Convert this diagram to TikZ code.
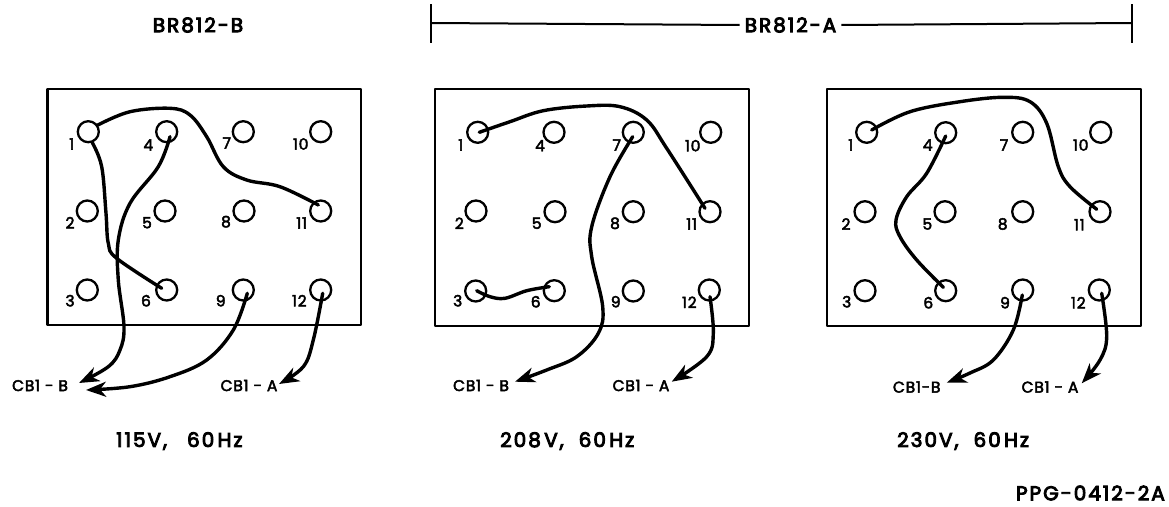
\documentclass[tikz,border=0pt]{standalone}
\usepackage{fontspec}
\setmainfont{Poppins}
\newfontfamily\lett[LetterSpace=10,FakeBold=4.5]{Poppins}
\newfontfamily\lettn[LetterSpace=5,FakeBold=3]{Poppins}
\usetikzlibrary{arrows.meta}
\tikzset{
  x=1pt,y=-1pt,
  panel/.style={draw=black,line width=2.3pt,line join=round},
  term/.style={circle,draw=black,line width=2.3pt,minimum size=21pt,inner sep=0pt},
  num/.style={inner sep=0pt,font=\lettn\fontsize{15.5}{16}\selectfont},
  cb/.style={inner sep=0pt,font=\lettn\fontsize{15.5}{16}\selectfont},
  head/.style={inner sep=0pt,font=\lett\fontsize{20}{22}\selectfont},
  wire/.style={draw=black,line width=3.4pt,line cap=round},
  lead/.style={wire,-{Stealth[length=20pt,width=15pt,inset=6pt]}},
  bar/.style={draw=black,line width=2pt},
  sm/.style={smooth,tension=0.6}
}
\begin{document}
\begin{tikzpicture}
\useasboundingbox (0,0) rectangle (1169,506);
% panels
\draw[panel] (47.5,89) rectangle (361,325);
\draw[panel] (435,89.3) rectangle (749.3,325.7);
\draw[panel] (827.3,89.3) rectangle (1141,325.7);
% terminals
\foreach \n/\x/\y in {1/88.3/131.7,4/166.7/131.7,7/243.3/131.7,10/320.7/131.7,2/87.3/211,5/165/211,8/244/211,11/320.7/211,3/87.3/290,6/166.7/290,9/243.3/290,12/320.7/290}
  \node[term] (a\n) at (\x,\y) {};
\foreach \n/\x/\y in {1/477.7/132.3,4/554/132.3,7/633.3/132.3,10/710.7/132.3,2/476/211,5/555/211.7,8/633.3/211.7,11/710/211.7,3/475.7/291,6/554.3/290.7,9/633.3/291,12/709.3/290}
  \node[term] (b\n) at (\x,\y) {};
\foreach \n/\x/\y in {1/866.7/132.3,4/945.7/132.7,7/1022.7/132.3,10/1100.7/132.3,2/865/211.7,5/945/211.7,8/1022.7/211.7,11/1100/211.7,3/865/290.7,6/945.7/290.7,9/1022.7/290,12/1099.3/290}
  \node[term] (c\n) at (\x,\y) {};
% numbers
\foreach \n/\x/\y in {1/71.7/144,4/148.3/145,7/226.7/143,10/300.7/144,2/70/222.7,5/147/222.7,8/226/221.7,11/301.7/223,3/70/300.7,6/146/300.7,9/220.7/300.7,12/299.3/300.7}
  \node[num] (la\n) at (\x,\y) {\n};
\foreach \n/\x/\y in {1/460.7/145,4/540/145.7,7/616.7/145,10/692.7/145.7,2/459.3/223.3,5/536.7/223.3,8/615/223.3,11/691.7/224,3/457.7/300.7,6/535.7/301.7,9/615.7/301.7,12/689.3/302.3}
  \node[num] (lb\n) at (\x,\y) {\n};
\foreach \n/\x/\y in {1/850.7/145,4/927.7/145,7/1004/145,10/1080.7/145,2/846/224,5/927.3/224,8/1002.7/224,11/1079.3/224.7,3/846.7/301.7,6/928.3/302.7,9/1005/302.7,12/1078.3/302.7}
  \node[num] (lc\n) at (\x,\y) {\n};
% lead labels
\node[cb] (aB) at (40,385.5) {CB1 - B};
\node[cb] (aA) at (249,385.5) {CB1 - A};
\node[cb] (bB) at (481,385.5) {CB1 - B};
\node[cb] (bA) at (641,385.5) {CB1 - A};
\node[cb] (cB) at (916.7,387) {CB1-B};
\node[cb] (cA) at (1050,387) {CB1 - A};
% wire ends inside the terminals
\coordinate (a11e) at ([shift={(-2.4,-6)}]a11.center);
\coordinate (a6e) at ([shift={(-5,-1.7)}]a6.center);
\coordinate (a4s) at ([shift={(3.3,5)}]a4.center);
\coordinate (a9s) at ([shift={(4,3.3)}]a9.center);
\coordinate (a12s) at ([shift={(2,3.3)}]a12.center);
\coordinate (b1s) at ([shift={(1.6,0)}]b1.center);
\coordinate (b11e) at ([shift={(-5,-3.4)}]b11.center);
\coordinate (b7s) at ([shift={(-0.6,4.4)}]b7.center);
\coordinate (b3s) at ([shift={(1,-0.3)}]b3.center);
\coordinate (b6e) at ([shift={(-5,-4)}]b6.center);
\coordinate (b12s) at ([shift={(0.7,6.7)}]b12.center);
\coordinate (c1s) at ([shift={(5,-2.3)}]c1.center);
\coordinate (c11e) at ([shift={(-3.3,-2.4)}]c11.center);
\coordinate (c4s) at ([shift={(0,3.3)}]c4.center);
\coordinate (c6e) at ([shift={(-2.4,-3.4)}]c6.center);
\coordinate (c9s) at ([shift={(-0.4,5)}]c9.center);
\coordinate (c12s) at ([shift={(2.4,3.3)}]c12.center);
% lead ends
\coordinate (aBt) at (79,383);
\coordinate (aBu) at (86,390);
\coordinate (aAt) at (279,384);
\coordinate (bBt) at (515,381.7);
\coordinate (bAt) at (671.7,381.7);
\coordinate (cBt) at (946.7,382.7);
\coordinate (cAt) at (1081.7,383.3);
% panel A wires
\draw[wire] plot[sm] coordinates {(a1.35) (130,111.7) (170,108.3) (190,115) (206.7,136.7) (223.3,166.7) (246.7,180) (280,186.7) (a11e)};
\draw[wire] plot[sm] coordinates {(a1.-70) (101.7,166.7) (106,213.3) (108.3,243.3) (116.7,258.3) (a6e)};
\draw[lead] plot[sm] coordinates {(a4s) (158.3,166.7) (130,203.3) (118.3,240) (118.3,280) (124,326.7) (120,350) (108.3,366.7) (aBt)};
\draw[lead] plot[sm] coordinates {(a9s) (233.3,330) (206.7,360) (170,376.7) (130,386.7) (aBu)};
\draw[lead] plot[sm] coordinates {(a12s) (313.3,340) (303.3,366.7) (aAt)};
% panel B wires
\draw[wire] plot[sm] coordinates {(b1s) (510,121.7) (543.3,110.7) (586.7,106) (620,106.7) (646.7,120) (666.7,148.3) (b11e)};
\draw[lead] plot[sm] coordinates {(b7s) (610,176.7) (591.7,226.7) (591.7,256.7) (602.7,306.7) (598.3,333.3) (576.7,356.7) (546.7,370) (bBt)};
\draw[wire] plot[sm] coordinates {(b3s) (490,296.7) (505,298.3) (526.7,290.7) (b6e)};
\draw[lead] plot[sm] coordinates {(b12s) (713.3,333.3) (706.7,356.7) (bAt)};
% panel C wires
\draw[wire] plot[sm] coordinates {(c1s) (910,111.7) (960,101.7) (1003.3,97.3) (1030,101.7) (1046.7,123.3) (1058.3,166.7) (1070,186.7) (c11e)};
\draw[wire] plot[sm] coordinates {(c4s) (926.7,173.3) (906.7,196.7) (896,220) (900,236.7) (916.7,260) (c6e)};
\draw[lead] plot[sm] coordinates {(c9s) (1013.3,330) (993.3,360) (970,373) (cBt)};
\draw[lead] plot[sm] coordinates {(c12s) (1106.7,336.7) (1100,360) (cAt)};
% headings
\node[head] (hb) at (198,25) {BR812-B};
\node[head] (ha) at (790.5,25) {BR812-A};
\coordinate (lt) at (431,4); \coordinate (lb) at (431,43); \coordinate (lm) at (431,23);
\coordinate (rt) at (1132,4); \coordinate (rb) at (1132,43); \coordinate (rm) at (1132,23);
\draw[bar] (lt) -- (lb);
\draw[bar] (rt) -- (rb);
\draw[bar] (lm) -- ([xshift=-5pt]ha.west);
\draw[bar] ([xshift=5pt]ha.east) -- (rm);
% captions
\node[head,anchor=west] (v1) at (116,441) {115V,\hspace{20pt}60\,Hz};
\node[head,anchor=west] (v2) at (500,441) {208\,V,\hspace{15pt}60\,Hz};
\node[head,anchor=west] (v3) at (897,441) {230V,\hspace{15pt}60\,Hz};
\node[head,anchor=east] (ppg) at (1165,493) {PPG-0412-2A};
\end{tikzpicture}
\end{document}
